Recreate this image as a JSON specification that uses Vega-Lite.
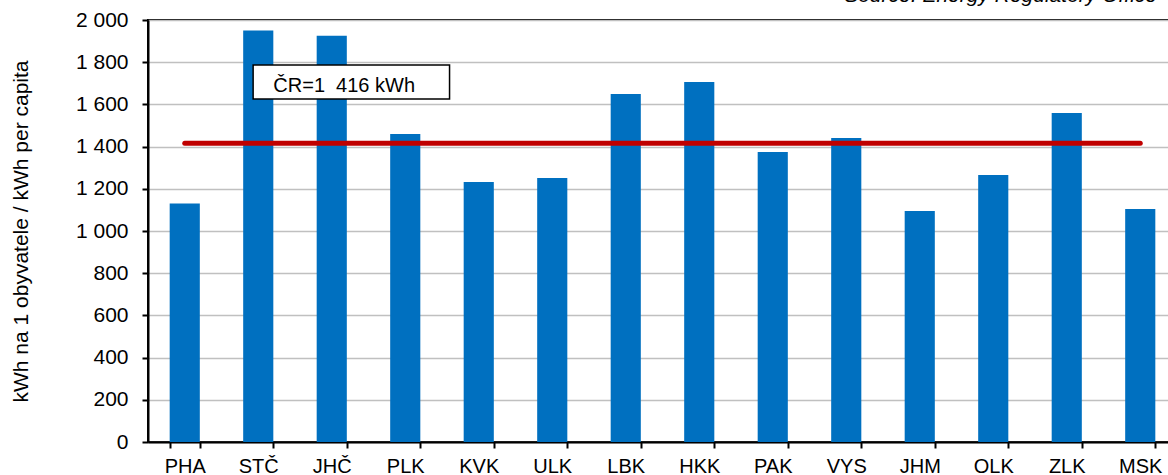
{
  "$schema": "https://vega.github.io/schema/vega-lite/v6.json",
  "autosize": {"type": "none"},
  "padding": {"left": 148, "top": 20, "right": 20, "bottom": 33},
  "width": 1029,
  "height": 422,
  "background": "white",
  "config": {
    "view": {"stroke": "black", "strokeWidth": 2},
    "font": "Liberation Sans"
  },
  "title": {
    "text": "Source: Energy Regulatory Office",
    "anchor": "end",
    "frame": "group",
    "fontStyle": "italic",
    "fontWeight": "normal",
    "fontSize": 21,
    "font": "Liberation Sans",
    "color": "black",
    "baseline": "alphabetic",
    "offset": -14,
    "dx": -20
  },
  "data": {
    "values": [
      {"kraj": "PHA", "kwh": 1130, "cr": 1416},
      {"kraj": "STČ", "kwh": 1950, "cr": 1416},
      {"kraj": "JHČ", "kwh": 1925, "cr": 1416},
      {"kraj": "PLK", "kwh": 1460, "cr": 1416},
      {"kraj": "KVK", "kwh": 1232, "cr": 1416},
      {"kraj": "ULK", "kwh": 1251, "cr": 1416},
      {"kraj": "LBK", "kwh": 1649, "cr": 1416},
      {"kraj": "HKK", "kwh": 1706, "cr": 1416},
      {"kraj": "PAK", "kwh": 1374, "cr": 1416},
      {"kraj": "VYS", "kwh": 1441, "cr": 1416},
      {"kraj": "JHM", "kwh": 1095, "cr": 1416},
      {"kraj": "OLK", "kwh": 1265, "cr": 1416},
      {"kraj": "ZLK", "kwh": 1559, "cr": 1416},
      {"kraj": "MSK", "kwh": 1104, "cr": 1416}
    ]
  },
  "encoding": {
    "x": {
      "field": "kraj",
      "type": "nominal",
      "sort": null,
      "scale": {"paddingInner": 0.59, "paddingOuter": 0.295},
      "axis": {
        "title": null,
        "labelAngle": 0,
        "labelFontSize": 20,
        "labelColor": "black",
        "labelPadding": 8,
        "tickBand": "extent",
        "tickSize": 6,
        "tickColor": "black",
        "tickWidth": 2,
        "domainColor": "black",
        "domainWidth": 2
      }
    }
  },
  "layer": [
    {
      "mark": {"type": "bar", "color": "#0070C0"},
      "encoding": {
        "y": {
          "field": "kwh",
          "type": "quantitative",
          "scale": {"domain": [0, 2000], "nice": false},
          "axis": {
            "values": [0, 200, 400, 600, 800, 1000, 1200, 1400, 1600, 1800, 2000],
            "labelExpr": "replace(format(datum.value, ','), ',', ' ')",
            "labelFontSize": 21,
            "labelColor": "black",
            "labelPadding": 14,
            "tickSize": 6,
            "tickColor": "black",
            "tickWidth": 2,
            "domainColor": "black",
            "domainWidth": 2,
            "grid": true,
            "gridColor": "#C0C0C0",
            "gridWidth": 1.5,
            "title": "kWh na 1 obyvatele / kWh per capita",
            "titleFontSize": 21,
            "titleFontWeight": "normal",
            "titleColor": "black",
            "titlePadding": 44
          }
        }
      }
    },
    {
      "mark": {"type": "line", "color": "#C00000", "strokeWidth": 5, "strokeCap": "round"},
      "encoding": {
        "y": {"field": "cr", "type": "quantitative"}
      }
    },
    {
      "data": {"values": [{}]},
      "mark": {"type": "rect", "fill": "white", "stroke": "black", "strokeWidth": 1.5},
      "encoding": {
        "x": {"datum": "STČ", "type": "nominal", "bandPosition": 0.33},
        "x2": {"datum": "PLK", "bandPosition": 1.97},
        "y": {"datum": 1626, "type": "quantitative"},
        "y2": {"datum": 1787}
      }
    },
    {
      "data": {"values": [{}]},
      "mark": {"type": "text", "align": "left", "baseline": "middle", "fontSize": 20, "fontWeight": "normal", "color": "black", "font": "Liberation Sans"},
      "encoding": {
        "x": {"datum": "STČ", "type": "nominal", "bandPosition": 1.0},
        "y": {"datum": 1685, "type": "quantitative"},
        "text": {"value": "ČR=1\u00a0\u00a0416\u00a0kWh"}
      }
    }
  ]
}
